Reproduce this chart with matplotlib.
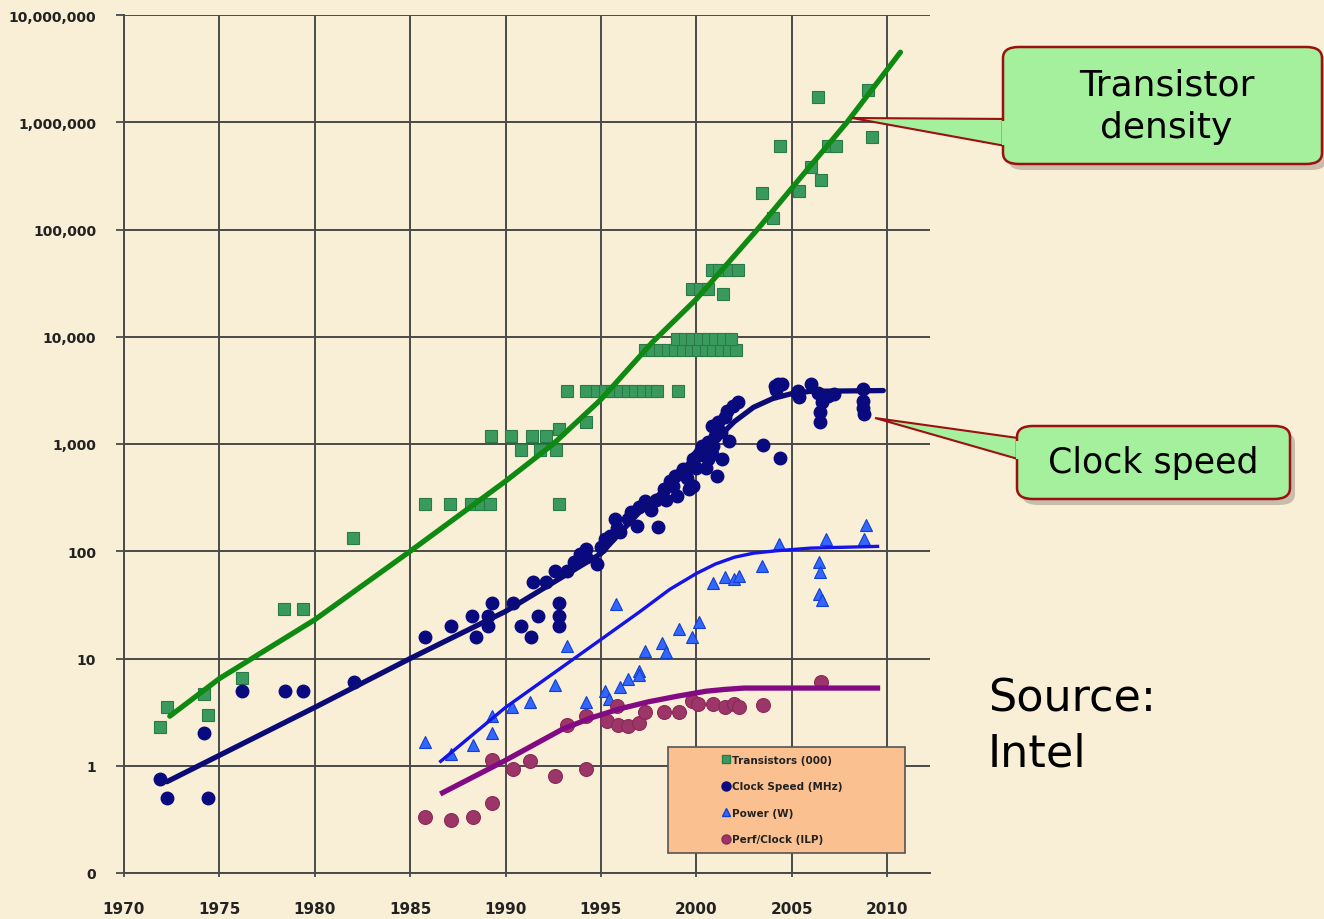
import matplotlib
matplotlib.use("Agg")
import matplotlib.pyplot as plt
from matplotlib.patches import FancyBboxPatch, Polygon, Rectangle
from matplotlib.lines import Line2D

# ---------------- data ----------------
trans_years = [1971.9, 1972.25, 1974.2, 1974.4, 1976.2, 1978.4, 1979.4, 1982.0,
               1985.8, 1987.1, 1988.2, 1988.7, 1989.2, 1989.25, 1990.3, 1990.8,
               1991.4, 1991.8, 1992.1, 1992.65, 1992.8, 1992.8, 1993.2, 1994.2,
               1994.2, 1994.8, 1995.2, 1995.6, 1996.0, 1996.4, 1996.8, 1997.2,
               1997.6, 1997.95, 1999.05,
               1997.3, 1997.7, 1998.1, 1998.5, 1998.9, 1999.3, 1999.7, 2000.1,
               2000.5, 2000.9, 2001.3, 2001.7, 2002.1,
               1999.0, 1999.4, 1999.8, 2000.2, 2000.6, 2001.0, 2001.4, 2001.8,
               1999.8, 2000.2, 2000.6,
               2000.8, 2001.2, 2001.7, 2002.2, 2001.4,
               2003.45, 2004.0, 2004.4, 2005.4, 2006.0, 2006.55, 2006.4,
               2006.9, 2007.3, 2009.0, 2009.2]
trans_vals = [2.3, 3.5, 4.7, 3.0, 6.6, 29, 29, 134,
              275, 275, 275, 275, 275, 1200, 1200, 870,
              1200, 870, 1200, 870, 1380, 275, 3100, 1600,
              3100, 3100, 3100, 3100, 3100, 3100, 3100, 3100,
              3100, 3100, 3100,
              7500, 7500, 7500, 7500, 7500, 7500, 7500, 7500,
              7500, 7500, 7500, 7500, 7500,
              9500, 9500, 9500, 9500, 9500, 9500, 9500, 9500,
              28000, 28000, 28000,
              42000, 42000, 42000, 42000, 25000,
              220000, 128000, 600000, 230000, 380000, 290000, 1720000,
              600000, 600000, 2000000, 730000]

clock_years = [1971.9, 1972.25, 1974.2, 1974.4, 1976.2, 1978.45, 1979.4, 1982.05,
               1985.8, 1987.15, 1988.25, 1988.45, 1989.1, 1989.1, 1989.3, 1990.4,
               1990.8, 1991.35, 1991.7, 1992.8, 1992.8, 1992.8, 1991.45, 1992.1,
               1992.6, 1993.2, 1993.6, 1993.9, 1994.2, 1994.2, 1994.8, 1995.0,
               1995.2, 1995.5, 1995.75, 1995.85, 1996.0, 1996.4, 1996.6, 1996.9,
               1997.0, 1997.3, 1997.6, 1997.9, 1998.0, 1998.3, 1998.4, 1998.6,
               1998.8, 1998.9, 1999.0, 1999.26, 1999.3, 1999.5, 1999.6, 1999.7,
               1999.85, 1999.85, 2000.0, 2000.05, 2000.2, 2000.3, 2000.4, 2000.5,
               2000.6, 2000.6, 2000.8, 2000.8, 2000.9, 2001.0, 2001.1, 2001.15,
               2001.3, 2001.36, 2001.5, 2001.6, 2001.7, 2001.9, 2002.2,
               2003.5, 2004.4, 2004.1, 2004.3, 2004.5, 2004.2, 2005.3, 2005.35,
               2005.4, 2006.0, 2006.4, 2006.5, 2006.5, 2006.6, 2006.9, 2007.2,
               2008.75, 2008.75, 2008.75, 2008.8]
clock_vals = [0.75, 0.5, 2.0, 0.5, 5.0, 5.0, 5.0, 6.0,
              16, 20, 25, 16, 25, 20, 33, 33,
              20, 16, 25, 33, 25, 20, 52, 52,
              66, 66, 80, 95, 105, 89, 76, 110,
              130, 140, 200, 163, 150, 200, 230, 173,
              260, 295, 245, 300, 170, 380, 300, 450,
              410, 500, 330, 550, 590, 480, 380, 630,
              410, 720, 600, 780, 850, 950, 900, 600,
              1050, 720, 800, 1480, 950, 1200, 500, 1620,
              1300, 720, 1800, 2050, 1060, 2250, 2450,
              980, 740, 3500, 3600, 3600, 3200, 3000, 3100,
              2750, 3600, 3000, 2000, 1620, 2450, 2800, 2900,
              3250, 2500, 2150, 1900]

power_years = [1985.8, 1987.15, 1988.3, 1989.3, 1989.3, 1990.35, 1991.3, 1992.6,
               1993.2, 1994.2, 1995.2, 1995.4, 1995.8, 1996.0, 1996.4, 1997.0,
               1997.0, 1997.3, 1998.2, 1998.4, 1999.1, 1999.8, 2000.15, 2000.9,
               2001.5, 2002.0, 2002.25, 2003.45, 2004.35, 2006.45, 2006.5, 2006.45,
               2006.6, 2006.8, 2008.8, 2008.9]
power_vals = [1.66, 1.3, 1.55, 2.0, 2.9, 3.5, 3.9, 5.7,
              13, 3.9, 5.0, 4.2, 32, 5.4, 6.4, 7.7,
              7.0, 11.8, 14, 11.5, 19, 16, 22, 51,
              58, 55, 59, 73, 117, 79, 64, 40,
              35, 130, 131, 174]

perf_years = [1985.8, 1987.15, 1988.3, 1989.3, 1989.3, 1990.4, 1991.3, 1992.6,
              1994.2, 1993.2, 1994.2, 1995.3, 1995.85, 1995.9, 1996.4, 1997.0,
              1997.3, 1998.3, 1999.1, 1999.8, 2000.1, 2000.9, 2001.5, 2002.0,
              2002.25, 2003.5, 2006.55]
perf_vals = [0.33, 0.31, 0.33, 0.45, 1.12, 0.93, 1.1, 0.8,
             0.93, 2.4, 2.9, 2.6, 3.6, 2.4, 2.35, 2.5,
             3.2, 3.2, 3.2, 4.0, 3.8, 3.8, 3.5, 3.8,
             3.5, 3.7, 6.1]

# trend curves
trans_fit_years = [1972.4, 1975, 1980, 1985, 1990, 1992.5, 1995, 1997.7, 2000,
                   2003.2, 2005.5, 2007.9, 2010.7]
trans_fit_vals = [2.9, 6.5, 23, 100, 450, 1000, 2600, 8900, 22400,
                  100000, 310000, 1000000, 4500000]
clock_fit_years = [1972.25, 1980, 1985, 1990, 1995, 1997, 1999, 2000, 2001,
                   2002, 2003, 2004, 2005, 2006, 2009.8]
clock_fit_vals = [0.71, 3.5, 10, 27.5, 95, 230, 480, 700, 1080,
                  1620, 2200, 2650, 2950, 3100, 3150]
power_fit_years = [1986.6, 1990, 1994.5, 1997, 1998.6, 2000, 2001, 2002,
                   2003, 2004.2, 2006, 2009.5]
power_fit_vals = [1.1, 3.5, 13, 27, 44, 62, 76, 88, 96, 101, 107, 111]
perf_fit_years = [1986.7, 1989.9, 1993, 1994.5, 1996, 1997.5, 1999, 2000.5,
                  2001.5, 2002.5, 2009.5]
perf_fit_vals = [0.56, 1.1, 2.2, 2.8, 3.4, 3.95, 4.45, 4.95, 5.15, 5.3, 5.3]

x_ticks = [1970, 1975, 1980, 1985, 1990, 1995, 2000, 2005, 2010]
y_ticks = [0.1, 1, 10, 100, 1000, 10000, 100000, 1000000, 10000000]
y_tick_labels = ["0", "1", "10", "100", "1,000", "10,000", "100,000",
                 "1,000,000", "10,000,000"]
legend_labels = ["Transistors (000)", "Clock Speed (MHz)", "Power (W)",
                 "Perf/Clock (ILP)"]

# ---------------- figure ----------------
W, H = 1324, 920
BG = "#F9EED6"
fig = plt.figure(figsize=(W / 100, H / 100), dpi=100, facecolor=BG)


def fx(x):
    return x / W


def fy(y):
    return 1 - y / H


ax = fig.add_axes([fx(124), fy(874), fx(930) - fx(124), fy(16) - fy(874)])
ax.set_facecolor(BG)
ax.set_yscale("log")
ax.set_xlim(1970, 2012.25)
ax.set_ylim(0.1, 1e7)
ax.minorticks_off()
ax.set_xticks(x_ticks)
ax.set_xticklabels([str(v) for v in x_ticks], fontsize=11, fontweight="bold",
                   color="#222222")
ax.set_yticks(y_ticks)
ax.set_yticklabels(y_tick_labels, fontsize=10, fontweight="bold", color="#222222")
ax.tick_params(axis="y", length=6, width=1.3, color="#4a4a4a", pad=14)
ax.tick_params(axis="x", length=3, width=1.3, color="#4a4a4a", pad=17)
ax.grid(True, color="#4a4a4a", lw=1.4)
ax.set_axisbelow(True)
for s in ["top", "right"]:
    ax.spines[s].set_visible(False)
for s in ["left", "bottom"]:
    ax.spines[s].set_color("#4a4a4a")
    ax.spines[s].set_linewidth(1.4)

# markers
ax.plot(trans_years, trans_vals, "s", ms=8, mfc="#3A9A5E", mec="#2A7A48", mew=0.8,
        zorder=3)
ax.plot(clock_years, clock_vals, "o", ms=9, mfc="#0A0A80", mec="#0A0A80", zorder=3)
ax.plot(power_years, power_vals, "^", ms=8, mfc="#3366FF", mec="#1040D0", mew=0.8,
        zorder=3)
ax.plot(perf_years, perf_vals, "o", ms=10, mfc="#9C3568", mec="#8A2A5A", mew=0.8,
        zorder=3)

# trend lines
ax.plot(trans_fit_years, trans_fit_vals, "-", color="#0E8A12", lw=3.8, zorder=4,
        solid_capstyle="round", solid_joinstyle="round")
ax.plot(clock_fit_years, clock_fit_vals, "-", color="#0B0B78", lw=3.8, zorder=4,
        solid_capstyle="round", solid_joinstyle="round")
ax.plot(power_fit_years, power_fit_vals, "-", color="#1414E8", lw=2.4, zorder=4,
        solid_joinstyle="round")
ax.plot(perf_fit_years, perf_fit_vals, "-", color="#820A82", lw=3.8, zorder=4,
        solid_joinstyle="round")

# legend box
ax.add_patch(Rectangle((fx(668), fy(854)), fx(905) - fx(668), fy(748) - fy(854),
                       transform=fig.transFigure, facecolor="#FAC090",
                       edgecolor="#555555", lw=1.2, zorder=6))
handles = [
    Line2D([], [], ls="none", marker="s", ms=6, mfc="#3A9A5E", mec="#2A7A48"),
    Line2D([], [], ls="none", marker="o", ms=6.5, mfc="#0A0A80", mec="#0A0A80"),
    Line2D([], [], ls="none", marker="^", ms=6, mfc="#3366FF", mec="#1040D0"),
    Line2D([], [], ls="none", marker="o", ms=6.5, mfc="#9C3568", mec="#8A2A5A"),
]
leg = ax.legend(handles, legend_labels, loc="upper left",
                bbox_to_anchor=(fx(722), fy(756)), bbox_transform=fig.transFigure,
                frameon=False, prop={"size": 7.5, "weight": "bold"},
                handlelength=0.8, handletextpad=0.2, labelspacing=1.58,
                borderpad=0, borderaxespad=0)
leg.set_zorder(7)
for t in leg.get_texts():
    t.set_color("#222222")


# callouts
def callout(x0, y0, x1, y1, tip, base_top, base_bot, text, fs, dx):
    # shadow
    fig.patches.append(FancyBboxPatch((fx(x0 + 5), fy(y1 + 6)),
                                      fx(x1 - x0), fy(y0) - fy(y1),
                                      boxstyle="round,pad=0,rounding_size=0.012",
                                      transform=fig.transFigure,
                                      facecolor="#6b6458", edgecolor="none",
                                      alpha=0.35))
    fig.patches.append(Polygon([(fx(tip[0]), fy(tip[1])),
                                (fx(x0 + 8), fy(base_top)),
                                (fx(x0 + 8), fy(base_bot))],
                               closed=True, transform=fig.transFigure,
                               facecolor="#A4F09C", edgecolor="#9B1010", lw=1.5))
    fig.patches.append(FancyBboxPatch((fx(x0), fy(y1)), fx(x1 - x0),
                                      fy(y0) - fy(y1),
                                      boxstyle="round,pad=0,rounding_size=0.012",
                                      transform=fig.transFigure,
                                      facecolor="#A4F09C", edgecolor="#9B1010",
                                      lw=1.8))
    # cover the joint
    fig.patches.append(Polygon([(fx(x0 + 12), fy(base_top + 2)),
                                (fx(x0 - 1), fy(base_top + 2)),
                                (fx(x0 - 1), fy(base_bot - 2)),
                                (fx(x0 + 12), fy(base_bot - 2))],
                               closed=True, transform=fig.transFigure,
                               facecolor="#A4F09C", edgecolor="none"))
    fig.text(fx((x0 + x1) / 2 + dx), fy((y0 + y1) / 2), text, fontsize=fs,
             ha="center", va="center", color="black", linespacing=1.3)


callout(1003, 48, 1322, 165, (852, 119), 120, 148, "Transistor\ndensity", 26, 4)
callout(1017, 427, 1290, 500, (875, 419), 440, 462, "Clock speed", 25, 0)

fig.text(fx(988), fy(712), "Source:", fontsize=32, color="black", va="baseline")
fig.text(fx(988), fy(767), "Intel", fontsize=32, color="black", va="baseline")

fig.savefig("out.png", dpi=100, facecolor=BG)
